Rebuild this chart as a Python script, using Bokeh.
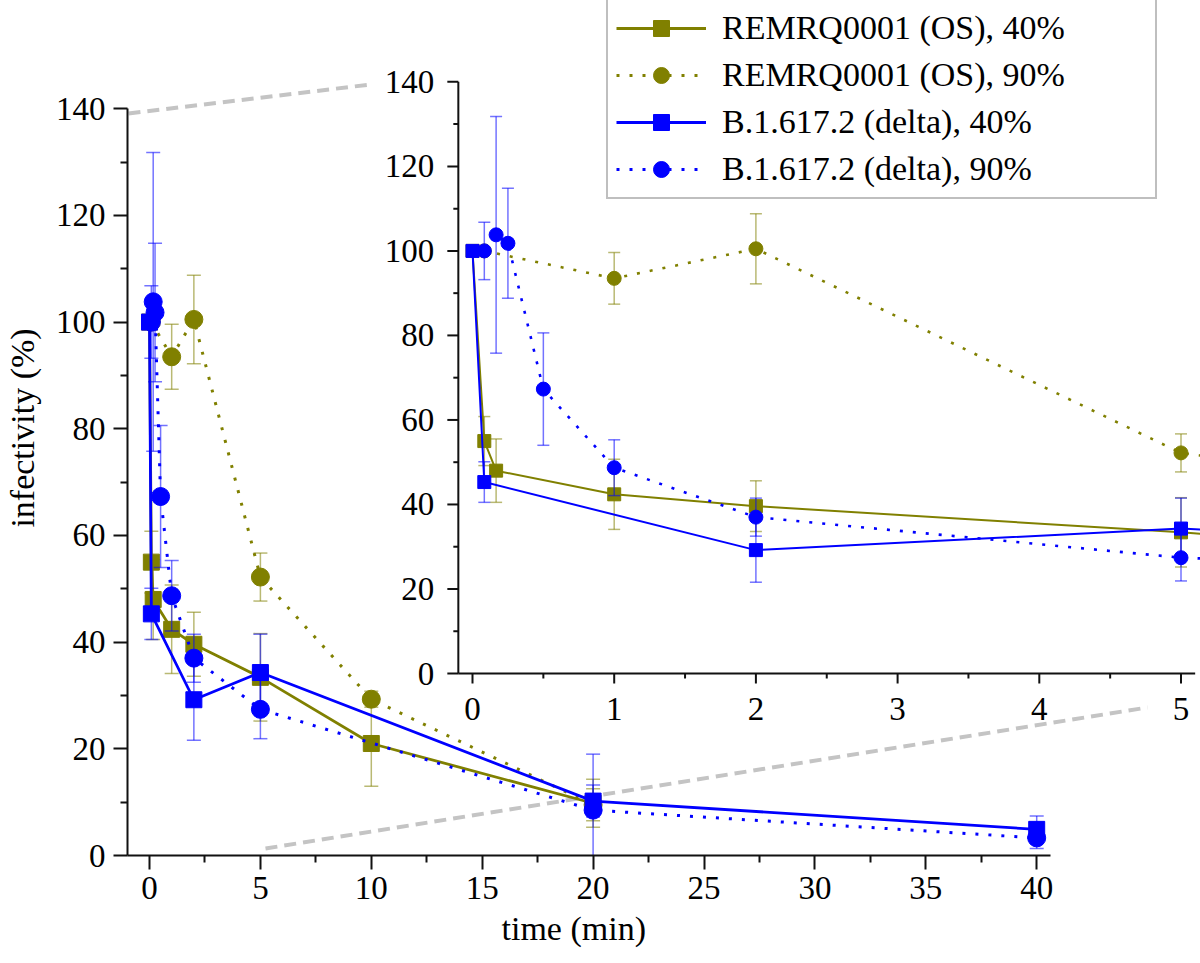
from bokeh.plotting import figure
from bokeh.models import Range1d, FixedTicker, Legend, LegendItem, Title
from bokeh.core.properties import value
from bokeh.embed import file_html
from bokeh.resources import INLINE

# ---------------- data ----------------
# time in minutes, infectivity in %
T_OS40 = [0, 5/60, 10/60, 1, 2, 5, 10, 20]
Y_OS40 = [100, 55.0, 48.0, 42.4, 39.6, 33.4, 21.0, 9.8]
E_OS40 = [0, 5.8, 7.5, 8.3, 6.0, 8.2, 8.0, 4.5]

T_OS90 = [5/60, 1, 2, 5, 10, 20]
Y_OS90 = [100, 93.5, 100.5, 52.2, 29.3, 9.5]
E_OS90 = [0, 6.1, 8.3, 4.5, 1.5, 3.0]

T_D40 = [0, 5/60, 2, 5, 20, 40]
Y_D40 = [100, 45.3, 29.2, 34.3, 10.2, 4.9]
E_D40 = [0, 4.8, 7.6, 7.2, 3.0, 2.5]

T_D90 = [5/60, 10/60, 15/60, 0.5, 1, 2, 5, 20, 40]
Y_D90 = [100, 103.8, 101.8, 67.3, 48.7, 37.0, 27.4, 8.5, 3.3]
E_D90 = [6.8, 28.0, 13.0, 13.3, 6.6, 4.5, 5.5, 10.5, 2.0]

LABELS = ["REMRQ0001 (OS), 40%", "REMRQ0001 (OS), 90%",
          "B.1.617.2 (delta), 40%", "B.1.617.2 (delta), 90%"]
X_TITLE = "time (min)"
Y_TITLE = "infectivity (%)"

MAIN_X_TICKS = [0, 5, 10, 15, 20, 25, 30, 35, 40]
MAIN_X_MINOR = [2.5, 7.5, 12.5, 17.5, 22.5, 27.5, 32.5, 37.5]
MAIN_Y_TICKS = [0, 20, 40, 60, 80, 100, 120, 140]
MAIN_Y_MINOR = [10, 30, 50, 70, 90, 110, 130]
INSET_X_TICKS = [0, 1, 2, 3, 4, 5]
INSET_X_LABELS = ["0", "1", "2", "3", "4", "5"]
INSET_X_MINOR = [0.5, 1.5, 2.5, 3.5, 4.5]
INSET_Y_TICKS = [0, 20, 40, 60, 80, 100, 120, 140]
INSET_Y_LABELS = ["0", "20", "40", "60", "80", "100", "120", "140"]
INSET_Y_MINOR = [10, 30, 50, 70, 90, 110, 130]

# ---------------- layout constants ----------------
W, H = 1200, 963
FL, FB = 127, 855            # frame left / bottom (page px)
MX0, MXP = 149.0, 22.18      # main: px of t=0, px per minute
MYP = 5.334                  # main: px per %
IX0, IXP = 472.0, 141.7      # inset: px of t=0, px per minute
IY0, IYP = 673.0, 4.226      # inset: px of 0 %, px per %
I_XMIN, I_XMAX, I_YMAX = -0.1, 5.1, 140

OLIVE = "#808000"
BLUE = "#0000ff"
AX = "#111111"
SERIF = "Liberation Serif"
DOT = "3 10"
TICK_FS = "33px"
TITLE_FS = "34px"

p = figure(output_backend="svg", toolbar_location=None,
           frame_width=W - FL, frame_height=FB,
           x_range=Range1d((FL - MX0) / MXP, (W - MX0) / MXP),
           y_range=Range1d(0, FB / MYP),
           min_border_left=FL, min_border_right=0, min_border_top=0,
           min_border_bottom=H - FB)
p.extra_x_ranges = {"ix": Range1d((FL - IX0) / IXP, (W - IX0) / IXP)}
p.extra_y_ranges = {"iy": Range1d((IY0 - FB) / IYP, IY0 / IYP)}
p.outline_line_color = None
p.xgrid.visible = False
p.ygrid.visible = False
p.background_fill_color = "white"
p.border_fill_color = "white"

# main axes
xa = p.xaxis[0]
ya = p.yaxis[0]
xa.ticker = FixedTicker(ticks=MAIN_X_TICKS, minor_ticks=MAIN_X_MINOR)
ya.ticker = FixedTicker(ticks=MAIN_Y_TICKS, minor_ticks=MAIN_Y_MINOR)
xa.bounds = ((FL - MX0) / MXP, 40.6)
ya.bounds = (0, 140)
for a in (xa, ya):
    a.axis_line_width = 2
    a.axis_line_color = AX
    a.major_tick_line_width = 2
    a.major_tick_line_color = AX
    a.minor_tick_line_width = 2
    a.minor_tick_line_color = AX
    a.major_tick_in = 0
    a.minor_tick_in = 0
    a.major_tick_out = 14
    a.minor_tick_out = 7
    a.major_label_text_font = SERIF
    a.major_label_text_font_size = TICK_FS
    a.major_label_text_color = "black"
    a.axis_label_text_font = SERIF
    a.axis_label_text_font_size = TITLE_FS
    a.axis_label_text_font_style = "normal"
    a.axis_label_text_color = "black"
ya.axis_label = Y_TITLE
xa.major_label_standoff = 7
ya.major_label_standoff = 8
ya.axis_label_standoff = 12

# x title centred under the data span of the main axis (as in the original)
p.add_layout(Title(text=X_TITLE, align="left", offset=573 - FL - 72, standoff=12,
                   text_font=SERIF, text_font_size=TITLE_FS,
                   text_font_style="normal", text_color="black"), "below")

# zoom guide lines (page geometry, main data units)
GUIDE_TOP = ([(128 - MX0) / MXP, (370 - MX0) / MXP], [(FB - 113) / MYP, (FB - 84) / MYP])
GUIDE_BOT = ([(265 - MX0) / MXP, (1147 - MX0) / MXP], [(FB - 848) / MYP, (FB - 707) / MYP])
for gx, gy in (GUIDE_TOP, GUIDE_BOT):
    p.line(gx, gy, line_color="#c4c4c4", line_width=4, line_dash="12 7")

SERIES = [
    (T_OS40, Y_OS40, E_OS40, OLIVE, "square", "solid"),
    (T_OS90, Y_OS90, E_OS90, OLIVE, "circle", DOT),
    (T_D40, Y_D40, E_D40, BLUE, "square", "solid"),
    (T_D90, Y_D90, E_D90, BLUE, "circle", DOT),
]


def draw(tt, yy, ee, color, marker, dash, xr, yr, msq, mci, lw, dlw, capw):
    kw = dict(x_range_name=xr, y_range_name=yr)
    ln = p.line(tt, yy, line_color=color, line_width=(lw if dash == "solid" else dlw),
                line_dash=dash, **kw)
    et = [t for t, e in zip(tt, ee) if e > 0]
    lo = [y - e for y, e in zip(yy, ee) if e > 0]
    hi = [y + e for y, e in zip(yy, ee) if e > 0]
    p.segment(et, lo, et, hi, line_color=color, line_alpha=0.55, line_width=1.5, **kw)
    p.scatter(et + et, lo + hi, marker="dash", size=capw, line_color=color,
              line_alpha=0.55, line_width=1.5, **kw)
    sz = msq if marker == "square" else mci
    sc = p.scatter(tt, yy, marker=marker, size=sz, fill_color=color,
                   line_color=color, **kw)
    return ln, sc


items = []
for lab, (tt, yy, ee, c, m, d) in zip(LABELS, SERIES):
    ln, sc = draw(tt, yy, ee, c, m, d, "default", "default", 16, 18, 2.8, 3, 14)
    items.append(LegendItem(label=lab, renderers=[ln, sc]))

# ---------------- inset (drawn in its own ranges) ----------------
ik = dict(x_range_name="ix", y_range_name="iy")
for tt, yy, ee, c, m, d in SERIES:
    draw(tt, yy, ee, c, m, d, "ix", "iy", 13, 14, 2.0, 2.6, 12)

# inset axes
p.segment([I_XMIN, I_XMIN], [0, 0], [I_XMIN, I_XMAX], [I_YMAX, 0],
          line_color=AX, line_width=2, **ik)
p.segment(INSET_X_TICKS, [0] * len(INSET_X_TICKS), INSET_X_TICKS,
          [-10 / IYP] * len(INSET_X_TICKS), line_color=AX, line_width=2, **ik)
p.segment(INSET_X_MINOR, [0] * len(INSET_X_MINOR), INSET_X_MINOR,
          [-5 / IYP] * len(INSET_X_MINOR), line_color=AX, line_width=2, **ik)
p.segment([I_XMIN] * len(INSET_Y_TICKS), INSET_Y_TICKS,
          [I_XMIN - 11 / IXP] * len(INSET_Y_TICKS), INSET_Y_TICKS,
          line_color=AX, line_width=2, **ik)
p.segment([I_XMIN] * len(INSET_Y_MINOR), INSET_Y_MINOR,
          [I_XMIN - 5 / IXP] * len(INSET_Y_MINOR), INSET_Y_MINOR,
          line_color=AX, line_width=2, **ik)
p.text(INSET_X_TICKS, [0] * len(INSET_X_TICKS), text=INSET_X_LABELS,
       y_offset=35, text_align="center", text_baseline="middle",
       text_font=value(SERIF), text_font_size=TICK_FS, text_color="black", **ik)
p.text([I_XMIN] * len(INSET_Y_TICKS), INSET_Y_TICKS, text=INSET_Y_LABELS,
       x_offset=-24, text_align="right", text_baseline="middle",
       text_font=value(SERIF), text_font_size=TICK_FS, text_color="black", **ik)

# legend
legend = Legend(items=items, location=(606 - FL, FB - 199), margin=0,
                label_text_font=SERIF, label_text_font_size="34px",
                label_text_color="black",
                glyph_width=90, glyph_height=40, label_height=40,
                label_width=425, label_standoff=16, spacing=7, padding=8,
                border_line_color="#808080", border_line_width=2,
                background_fill_color="white", background_fill_alpha=1)
p.add_layout(legend)

open("out.html", "w").write(file_html(p, INLINE))
